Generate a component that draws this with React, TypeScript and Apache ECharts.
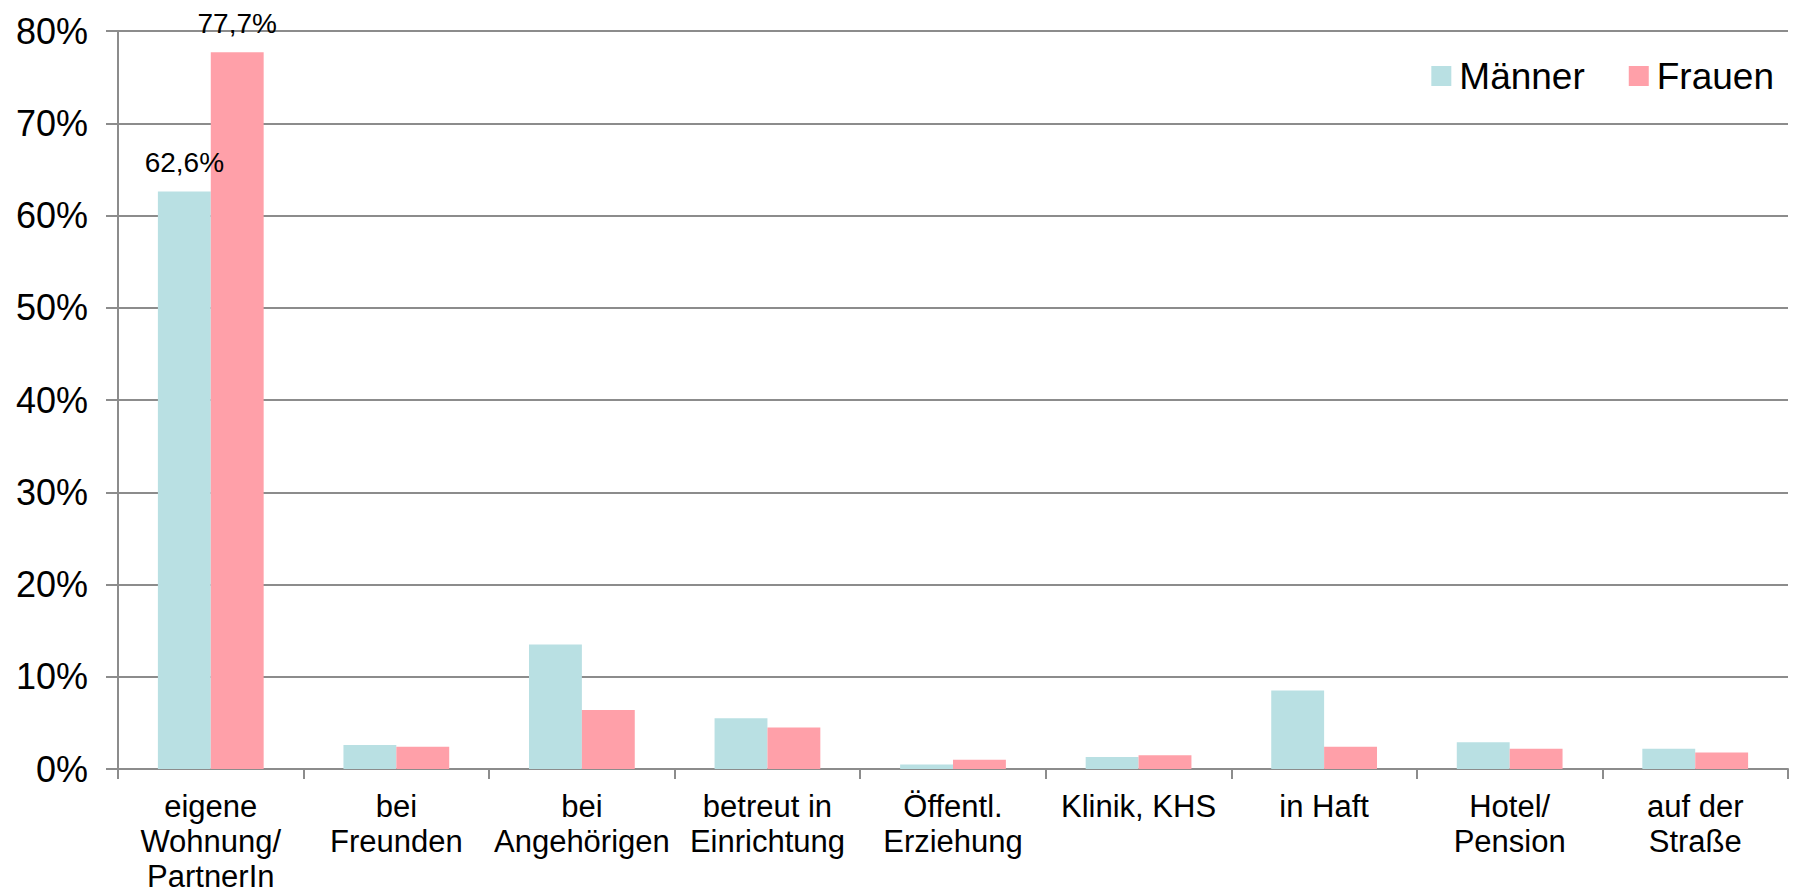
import React, { useEffect, useRef } from "react";
import * as echarts from "echarts";

const categories = [
  "eigene\nWohnung/\nPartnerIn",
  "bei\nFreunden",
  "bei\nAngehörigen",
  "betreut in\nEinrichtung",
  "Öffentl.\nErziehung",
  "Klinik, KHS",
  "in Haft",
  "Hotel/\nPension",
  "auf der\nStraße",
];
const maenner = [62.6, 2.6, 13.5, 5.5, 0.5, 1.3, 8.5, 2.9, 2.2];
const frauen = [77.7, 2.4, 6.4, 4.5, 1.0, 1.5, 2.4, 2.2, 1.8];
const labeledIndex = 0;

const FONT = "'Liberation Sans', Arial, sans-serif";
const GRAY = "#8c8c8c";

function withLabel(values: number[]) {
  return values.map((v, i) =>
    i === labeledIndex
      ? {
          value: v,
          label: {
            show: true,
            position: "top",
            distance: 15,
            fontFamily: FONT,
            fontSize: 28,
            color: "#000",
            formatter: (p: any) => String(p.value).replace(".", ",") + "%",
          },
        }
      : v
  );
}

export default function App() {
  const ref = useRef<HTMLDivElement>(null);
  useEffect(() => {
    document.body.style.margin = "0";
    const chart = echarts.init(ref.current!, null, { renderer: "svg" });
    chart.setOption({
      animation: false,
      backgroundColor: "#fff",
      legend: {
        right: 21,
        top: 56,
        padding: 0,
        itemWidth: 20,
        itemHeight: 20,
        itemGap: 44,
        icon: "rect",
        textStyle: {
          fontFamily: FONT,
          fontSize: 37,
          color: "#000",
          lineHeight: 40,
          padding: [0, 0, 0, 3],
        },
        data: ["Männer", "Frauen"],
      },
      grid: { left: 118, right: 7, top: 31, bottom: 126, containLabel: false },
      xAxis: {
        type: "category",
        data: categories,
        axisLine: { lineStyle: { color: GRAY, width: 2 } },
        axisTick: { show: true, length: 10, lineStyle: { color: GRAY, width: 2 } },
        axisLabel: {
          interval: 0,
          margin: 20,
          fontFamily: FONT,
          fontSize: 31,
          lineHeight: 35,
          color: "#000",
        },
      },
      yAxis: {
        type: "value",
        min: 0,
        max: 80,
        interval: 10,
        axisLine: { show: true, lineStyle: { color: GRAY, width: 2 } },
        axisTick: { show: true, length: 12, lineStyle: { color: GRAY, width: 2 } },
        splitLine: { show: true, lineStyle: { color: GRAY, width: 2 } },
        axisLabel: {
          formatter: "{value}%",
          margin: 30,
          fontFamily: FONT,
          fontSize: 36,
          color: "#000",
        },
      },
      series: [
        {
          name: "Männer",
          type: "bar",
          data: withLabel(maenner),
          itemStyle: { color: "#B9E0E3" },
          barGap: "0%",
          barCategoryGap: "43%",
        },
        {
          name: "Frauen",
          type: "bar",
          data: withLabel(frauen),
          itemStyle: { color: "#FFA0A9" },
          barGap: "0%",
          barCategoryGap: "43%",
        },
      ],
    });
    return () => chart.dispose();
  }, []);
  return <div ref={ref} style={{ width: 1795, height: 895 }} />;
}
